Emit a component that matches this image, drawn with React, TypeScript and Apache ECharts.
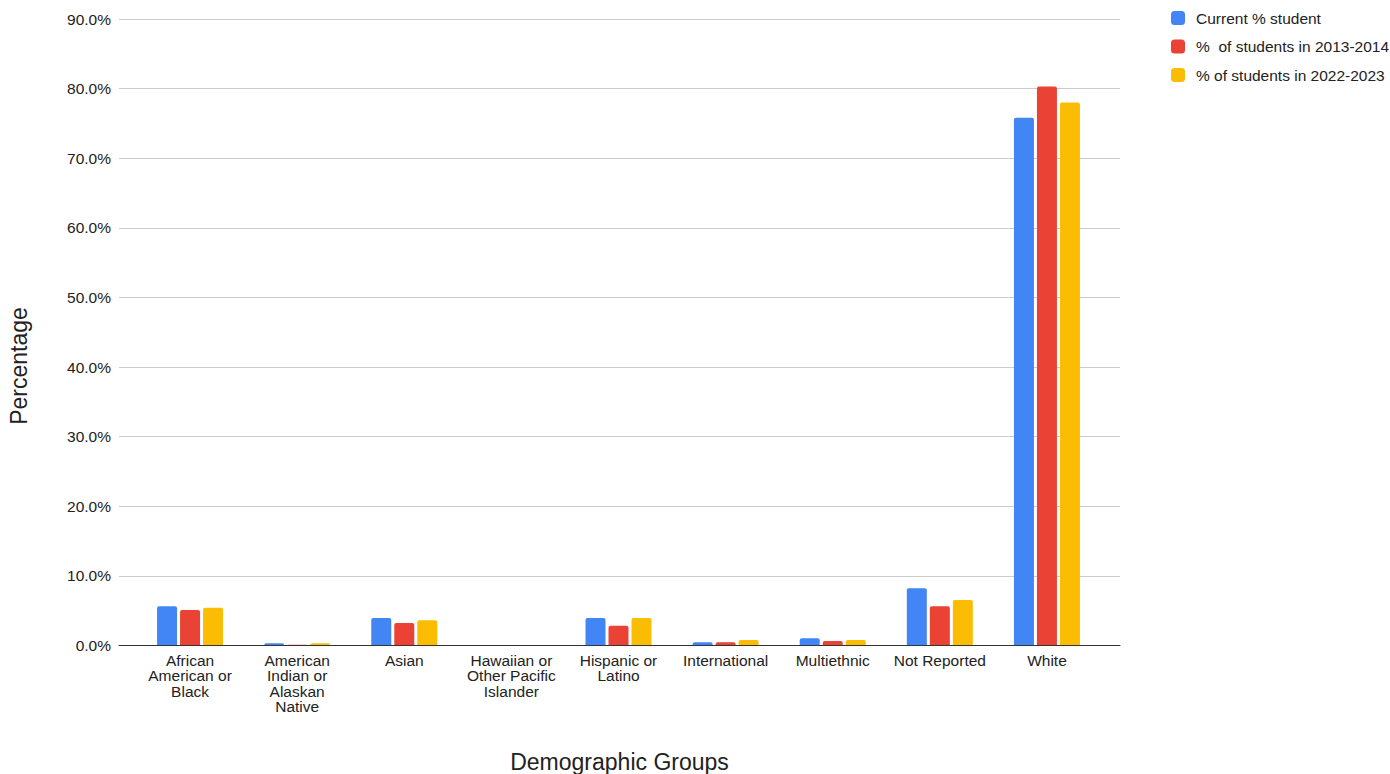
import React, { useEffect, useRef } from "react";
import * as echarts from "echarts";

const categories = [
  "African\nAmerican or\nBlack",
  "American\nIndian or\nAlaskan\nNative",
  "Asian",
  "Hawaiian or\nOther Pacific\nIslander",
  "Hispanic or\nLatino",
  "International",
  "Multiethnic",
  "Not Reported",
  "White",
];
const seriesNames = ["Current % student", "%  of students in 2013-2014", "% of students in 2022-2023"];
const currentPct = [5.65, 0.33, 3.95, 0, 3.95, 0.46, 1.03, 8.22, 75.8];
const pct2013 = [5.1, 0.1, 3.23, 0, 2.85, 0.46, 0.65, 5.63, 80.3];
const pct2022 = [5.43, 0.33, 3.62, 0, 3.95, 0.79, 0.79, 6.54, 78.0];
const colors = ["#4285F4", "#EA4335", "#FBBC04"];
const xTitle = "Demographic Groups";
const yTitle = "Percentage";

const FONT = "'Liberation Sans', Arial, sans-serif";
const TXT = "#222";

export default function App() {
  const ref = useRef<HTMLDivElement>(null);
  useEffect(() => {
    if (!ref.current) return;
    const chart = echarts.init(ref.current, undefined, { renderer: "svg" });
    const data = [currentPct, pct2013, pct2022];
    const top = 19;
    const bottom = 128.5;
    chart.setOption({
      animation: false,
      textStyle: { fontFamily: FONT },
      legend: {
        orient: "vertical",
        left: 1166,
        top: 5,
        itemWidth: 14,
        itemHeight: 14,
        itemGap: 12.5,
        icon: "roundRect",
        textStyle: { fontSize: 15.5, color: TXT, fontFamily: FONT, padding: [0, 0, 0, 6] },
        data: seriesNames,
      },
      grid: [
        { left: 119, right: 270, top, bottom, containLabel: false },
        { left: 136.5, right: 289.5, top, bottom, containLabel: false },
      ],
      xAxis: [
        {
          type: "category",
          gridIndex: 0,
          data: [""],
          axisLine: { lineStyle: { color: "#333", width: 1 } },
          axisTick: { show: false },
          axisLabel: { show: false },
          z: 10,
        },
        {
          type: "category",
          gridIndex: 1,
          data: categories,
          axisLine: { show: false },
          axisTick: { show: false },
          axisLabel: { interval: 0, fontSize: 15.5, color: TXT, lineHeight: 15.5, margin: 7, fontFamily: FONT },
        },
      ],
      yAxis: [
        {
          type: "value",
          gridIndex: 0,
          min: 0,
          max: 90,
          interval: 10,
          axisLabel: { formatter: (v: number) => v.toFixed(1) + "%", fontSize: 15.5, color: TXT, margin: 8, fontFamily: FONT },
          splitLine: { lineStyle: { color: "#ccc", width: 1 } },
          axisLine: { show: false },
          axisTick: { show: false },
        },
        {
          type: "value",
          gridIndex: 1,
          min: 0,
          max: 90,
          interval: 10,
          axisLabel: { show: false },
          splitLine: { show: false },
          axisLine: { show: false },
          axisTick: { show: false },
        },
      ],
      graphic: [
        {
          type: "text",
          x: 619.5,
          y: 762,
          style: { text: xTitle, fontSize: 23, fill: TXT, fontFamily: FONT, textAlign: "center", textVerticalAlign: "middle" },
        },
        {
          type: "text",
          x: 19,
          y: 366,
          rotation: Math.PI / 2,
          style: { text: yTitle, fontSize: 23, fill: TXT, fontFamily: FONT, textAlign: "center", textVerticalAlign: "middle" },
        },
      ],
      series: seriesNames.map((name, i) => ({
        name,
        type: "bar",
        xAxisIndex: 1,
        yAxisIndex: 1,
        data: data[i],
        barWidth: 20,
        barGap: "15%",
        itemStyle: { color: colors[i], borderRadius: [2, 2, 0, 0] },
      })),
    });
    return () => chart.dispose();
  }, []);
  return <div ref={ref} style={{ width: 1390, height: 774, position: "absolute", left: 0, top: 0 }} />;
}
